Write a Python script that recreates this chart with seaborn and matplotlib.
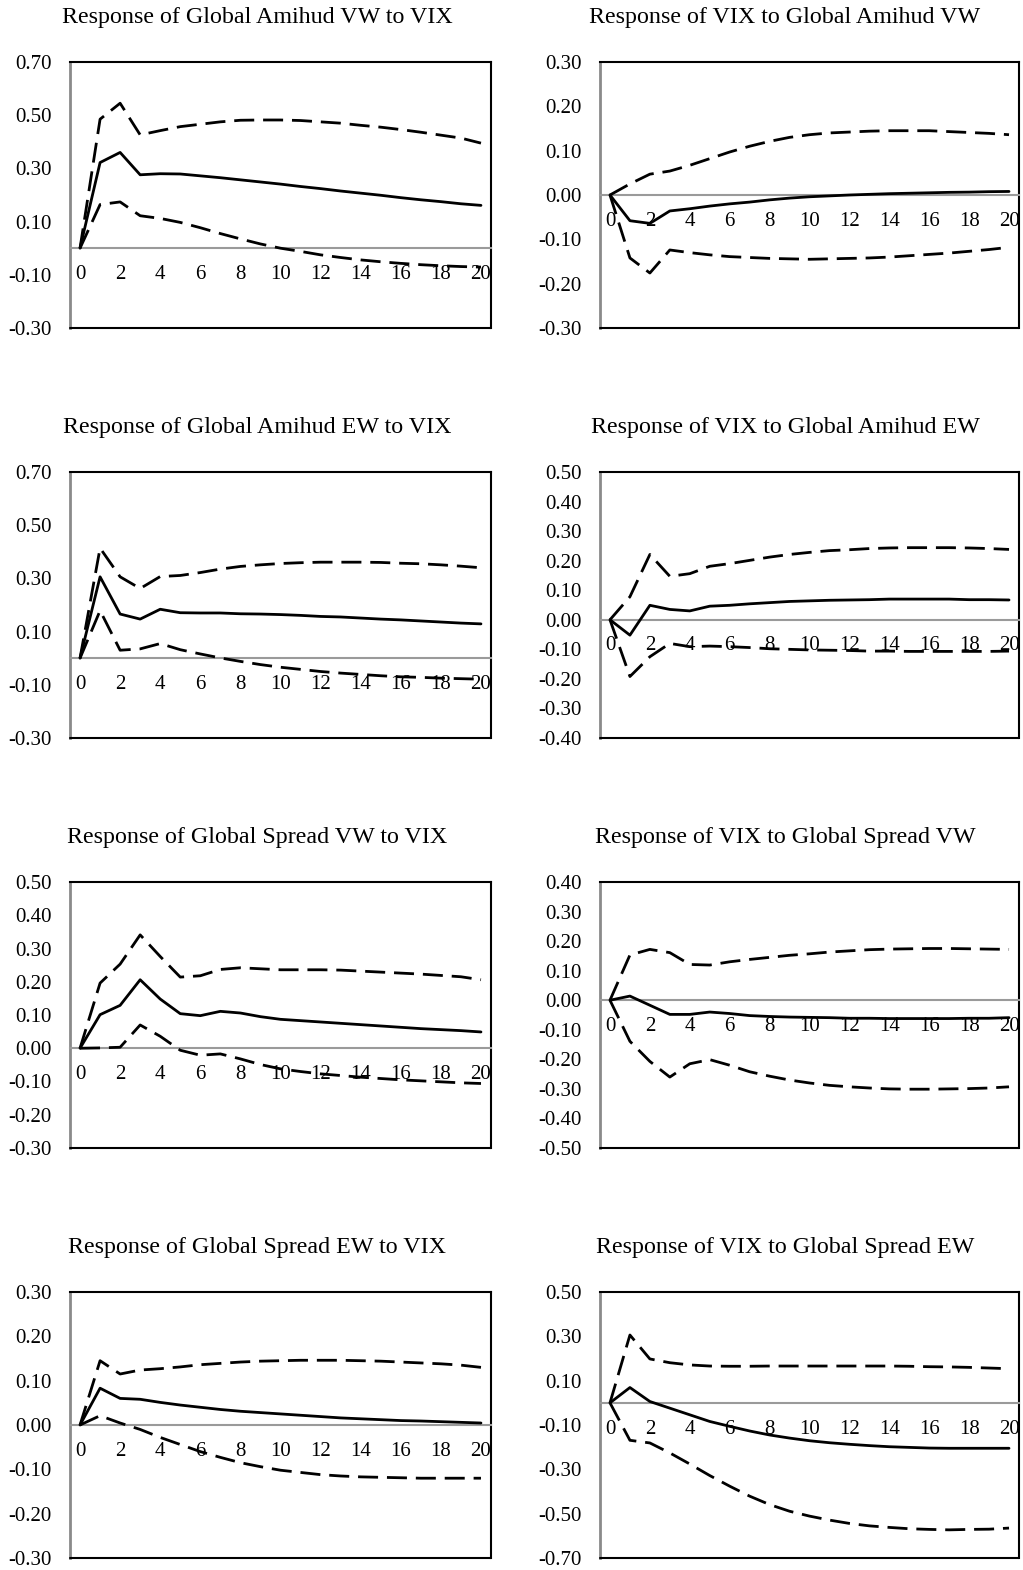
import numpy as np
import pandas as pd
import matplotlib
matplotlib.use("Agg")
import matplotlib.pyplot as plt
import seaborn as sns

# Impulse response horizons
horizon = list(range(21))

# Response of Global Amihud VW to VIX
amihud_vw_to_vix = [0, 0.322, 0.360, 0.276, 0.280, 0.279, 0.272, 0.265, 0.257, 0.249, 0.241,
                    0.232, 0.224, 0.215, 0.207, 0.199, 0.190, 0.182, 0.175, 0.167, 0.161]
amihud_vw_to_vix_hi = [0, 0.485, 0.545, 0.426, 0.442, 0.457, 0.466, 0.475, 0.481, 0.482, 0.482,
                       0.480, 0.475, 0.470, 0.462, 0.455, 0.446, 0.436, 0.425, 0.414, 0.395]
amihud_vw_to_vix_lo = [0, 0.164, 0.174, 0.122, 0.112, 0.097, 0.077, 0.055, 0.035, 0.016, 0.000,
                       -0.012, -0.025, -0.035, -0.044, -0.051, -0.057, -0.062, -0.066, -0.069, -0.071]

# Response of VIX to Global Amihud VW
vix_to_amihud_vw = [0, -0.058, -0.064, -0.036, -0.031, -0.025, -0.020, -0.016, -0.011, -0.007, -0.004,
                    -0.002, 0.000, 0.0015, 0.003, 0.004, 0.005, 0.006, 0.0065, 0.0075, 0.008]
vix_to_amihud_vw_hi = [0, 0.025, 0.047, 0.054, 0.067, 0.082, 0.097, 0.110, 0.121, 0.130, 0.136,
                       0.140, 0.142, 0.144, 0.145, 0.145, 0.145, 0.143, 0.141, 0.139, 0.136]
vix_to_amihud_vw_lo = [0, -0.142, -0.176, -0.124, -0.130, -0.135, -0.139, -0.141, -0.143, -0.144, -0.145,
                       -0.144, -0.143, -0.142, -0.140, -0.137, -0.134, -0.131, -0.127, -0.123, -0.118]

# Response of Global Amihud EW to VIX
amihud_ew_to_vix = [0, 0.306, 0.166, 0.147, 0.184, 0.171, 0.170, 0.170, 0.167, 0.166, 0.164,
                    0.161, 0.157, 0.155, 0.151, 0.147, 0.144, 0.140, 0.136, 0.132, 0.129]
amihud_ew_to_vix_hi = [0, 0.414, 0.306, 0.262, 0.307, 0.311, 0.322, 0.335, 0.345, 0.351, 0.356,
                       0.359, 0.361, 0.361, 0.361, 0.360, 0.357, 0.355, 0.351, 0.346, 0.340]
amihud_ew_to_vix_lo = [0, 0.179, 0.030, 0.035, 0.055, 0.032, 0.016, 0.001, -0.012, -0.024, -0.034,
                       -0.042, -0.050, -0.056, -0.061, -0.066, -0.070, -0.072, -0.075, -0.077, -0.079]

# Response of VIX to Global Amihud EW
vix_to_amihud_ew = [0, -0.052, 0.049, 0.035, 0.030, 0.046, 0.049, 0.054, 0.058, 0.062, 0.064,
                    0.066, 0.067, 0.068, 0.070, 0.070, 0.070, 0.070, 0.068, 0.068, 0.067]
vix_to_amihud_ew_hi = [0, 0.078, 0.221, 0.147, 0.156, 0.181, 0.190, 0.201, 0.212, 0.221, 0.228,
                       0.234, 0.237, 0.241, 0.243, 0.244, 0.244, 0.244, 0.243, 0.241, 0.238]
vix_to_amihud_ew_lo = [0, -0.192, -0.125, -0.080, -0.091, -0.089, -0.091, -0.094, -0.098, -0.100, -0.102,
                       -0.103, -0.104, -0.106, -0.106, -0.107, -0.107, -0.107, -0.107, -0.107, -0.106]

# Response of Global Spread VW to VIX
spread_vw_to_vix = [0, 0.101, 0.129, 0.206, 0.148, 0.104, 0.098, 0.111, 0.106, 0.095, 0.087,
                    0.083, 0.079, 0.075, 0.071, 0.067, 0.063, 0.059, 0.056, 0.053, 0.049]
spread_vw_to_vix_hi = [0, 0.196, 0.253, 0.341, 0.276, 0.214, 0.218, 0.237, 0.242, 0.239, 0.236,
                       0.236, 0.236, 0.235, 0.232, 0.229, 0.226, 0.223, 0.219, 0.215, 0.206]
spread_vw_to_vix_lo = [0, 0.001, 0.003, 0.070, 0.036, -0.006, -0.021, -0.017, -0.032, -0.049, -0.062,
                       -0.070, -0.077, -0.082, -0.087, -0.091, -0.095, -0.098, -0.101, -0.104, -0.106]

# Response of VIX to Global Spread VW
vix_to_spread_vw = [0, 0.014, -0.017, -0.048, -0.048, -0.040, -0.045, -0.052, -0.055, -0.057, -0.058,
                    -0.059, -0.061, -0.061, -0.062, -0.062, -0.062, -0.062, -0.061, -0.061, -0.059]
vix_to_spread_vw_hi = [0, 0.153, 0.172, 0.161, 0.121, 0.119, 0.130, 0.138, 0.145, 0.152, 0.157,
                       0.163, 0.167, 0.171, 0.173, 0.174, 0.175, 0.175, 0.174, 0.173, 0.172]
vix_to_spread_vw_lo = [0, -0.139, -0.207, -0.260, -0.215, -0.201, -0.220, -0.242, -0.257, -0.270, -0.280,
                       -0.288, -0.293, -0.297, -0.300, -0.301, -0.301, -0.300, -0.299, -0.297, -0.293]

# Response of Global Spread EW to VIX
spread_ew_to_vix = [0, 0.083, 0.060, 0.058, 0.051, 0.045, 0.040, 0.035, 0.031, 0.028, 0.025,
                    0.022, 0.019, 0.016, 0.014, 0.012, 0.010, 0.009, 0.0075, 0.006, 0.0045]
spread_ew_to_vix_hi = [0, 0.145, 0.115, 0.124, 0.127, 0.131, 0.136, 0.139, 0.142, 0.144, 0.145,
                       0.146, 0.146, 0.146, 0.145, 0.144, 0.142, 0.140, 0.138, 0.135, 0.130]
spread_ew_to_vix_lo = [0, 0.021, 0.0045, -0.010, -0.028, -0.044, -0.060, -0.073, -0.085, -0.094, -0.102,
                       -0.107, -0.112, -0.115, -0.117, -0.118, -0.119, -0.120, -0.120, -0.120, -0.120]

# Response of VIX to Global Spread EW
vix_to_spread_ew = [0, 0.069, 0.006, -0.024, -0.054, -0.084, -0.106, -0.127, -0.145, -0.159, -0.171,
                    -0.180, -0.187, -0.193, -0.198, -0.201, -0.204, -0.205, -0.205, -0.205, -0.205]
vix_to_spread_ew_hi = [0, 0.306, 0.198, 0.181, 0.171, 0.166, 0.165, 0.165, 0.166, 0.166, 0.166,
                       0.166, 0.166, 0.166, 0.166, 0.165, 0.163, 0.162, 0.160, 0.157, 0.154]
vix_to_spread_ew_lo = [0, -0.169, -0.181, -0.226, -0.276, -0.328, -0.376, -0.421, -0.459, -0.489, -0.511,
                       -0.529, -0.544, -0.555, -0.562, -0.568, -0.571, -0.573, -0.571, -0.570, -0.565]

titles = [
    "Response of Global Amihud VW to VIX", "Response of VIX to Global Amihud VW",
    "Response of Global Amihud EW to VIX", "Response of VIX to Global Amihud EW",
    "Response of Global Spread VW to VIX", "Response of VIX to Global Spread VW",
    "Response of Global Spread EW to VIX", "Response of VIX to Global Spread EW",
]
series = [
    (amihud_vw_to_vix, amihud_vw_to_vix_lo, amihud_vw_to_vix_hi),
    (vix_to_amihud_vw, vix_to_amihud_vw_lo, vix_to_amihud_vw_hi),
    (amihud_ew_to_vix, amihud_ew_to_vix_lo, amihud_ew_to_vix_hi),
    (vix_to_amihud_ew, vix_to_amihud_ew_lo, vix_to_amihud_ew_hi),
    (spread_vw_to_vix, spread_vw_to_vix_lo, spread_vw_to_vix_hi),
    (vix_to_spread_vw, vix_to_spread_vw_lo, vix_to_spread_vw_hi),
    (spread_ew_to_vix, spread_ew_to_vix_lo, spread_ew_to_vix_hi),
    (vix_to_spread_ew, vix_to_spread_ew_lo, vix_to_spread_ew_hi),
]
# (min, max, step) of each value axis
y_axes = [
    (-0.3, 0.7, 0.2), (-0.3, 0.3, 0.1),
    (-0.3, 0.7, 0.2), (-0.4, 0.5, 0.1),
    (-0.3, 0.5, 0.1), (-0.5, 0.4, 0.1),
    (-0.3, 0.3, 0.1), (-0.7, 0.5, 0.2),
]
x_ticks = list(range(0, 21, 2))

sns.set_theme(style="white")
plt.rcParams["font.family"] = ["Liberation Serif", "DejaVu Serif"]
plt.rcParams["axes.unicode_minus"] = False

W, H = 1023, 1570
fig = plt.figure(figsize=(W / 100, H / 100), dpi=100)

col_left = [70, 600]
col_width = [421, 419]
row_top = [62, 472, 882, 1292]
box_h = 266
title_x = [257, 785]
title_y = [18, 427, 837, 1247]

dash = (0, (7.2, 3.2))

for i, (title, (mid, lo, hi), (ymin, ymax, step)) in enumerate(zip(titles, series, y_axes)):
    r, c = divmod(i, 2)
    ax = fig.add_axes([col_left[c] / W, 1 - (row_top[r] + box_h) / H,
                       col_width[c] / W, box_h / H])
    df = pd.DataFrame({"h": horizon, "mid": mid, "lo": lo, "hi": hi})
    sns.lineplot(data=df, x="h", y="hi", ax=ax, color="black", lw=2.0,
                 linestyle=dash, dash_capstyle="butt", zorder=3)
    sns.lineplot(data=df, x="h", y="lo", ax=ax, color="black", lw=2.0,
                 linestyle=dash, dash_capstyle="butt", zorder=3)
    sns.lineplot(data=df, x="h", y="mid", ax=ax, color="black", lw=2.0, zorder=3)

    ax.set_xlim(-0.5, 20.5)
    ax.set_ylim(ymin, ymax)
    n = int(round((ymax - ymin) / step))
    yt = [ymin + k * step for k in range(n + 1)]
    ax.set_yticks(yt)
    ax.set_yticklabels([f"{v:.2f}".replace("-0.00", "0.00") for v in yt])
    ax.set_xticks(x_ticks)
    ax.set_xticklabels([str(v) for v in x_ticks])
    ax.set_xlabel("")
    ax.set_ylabel("")

    # category axis crosses the value axis at zero
    ax.spines["bottom"].set_position(("data", 0))
    ax.spines["bottom"].set_color("#9a9a9a")
    ax.spines["bottom"].set_linewidth(1.5)
    ax.spines["left"].set_color("#8a8a8a")
    ax.spines["left"].set_linewidth(2.0)
    for s in ("top", "right"):
        ax.spines[s].set_visible(True)
        ax.spines[s].set_color("black")
        ax.spines[s].set_linewidth(1.5)
    ax.axhline(ymin, color="black", lw=1.5, clip_on=False, zorder=2.6)

    ax.tick_params(axis="y", length=0, pad=13, labelsize=15, labelcolor="black")
    ax.tick_params(axis="x", length=0, pad=12, labelsize=15, labelcolor="black")
    ax.grid(False)

    fig.text(title_x[c] / W, 1 - title_y[r] / H, title, ha="center", va="center",
             fontsize=17.3, color="black")

fig.savefig("out.png", dpi=100, facecolor="white")
